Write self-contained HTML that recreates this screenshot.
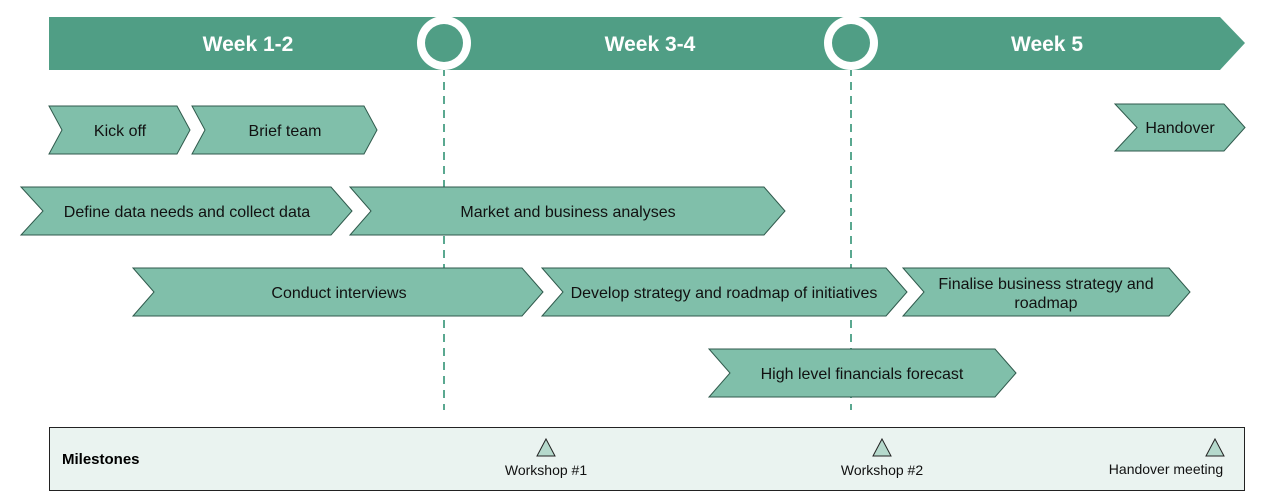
<!DOCTYPE html>
<html><head><meta charset="utf-8"><style>
html,body{margin:0;padding:0;background:#fff;}
svg{display:block;font-family:"Liberation Sans",Arial,sans-serif;}
</style></head><body>
<svg width="1280" height="501" viewBox="0 0 1280 501" xmlns="http://www.w3.org/2000/svg">
<rect width="1280" height="501" fill="#fff"/>
<polygon points="49,17 1220,17 1245,43 1220,70 49,70" fill="#509e85"/>
<line x1="444" y1="68" x2="444" y2="410" stroke="#5aa890" stroke-width="2" stroke-dasharray="8,6"/>
<line x1="851" y1="68" x2="851" y2="410" stroke="#5aa890" stroke-width="2" stroke-dasharray="8,6"/>
<circle cx="444" cy="43" r="27" fill="#fff"/>
<circle cx="444" cy="43" r="19" fill="#509e85"/>
<circle cx="851" cy="43" r="27" fill="#fff"/>
<circle cx="851" cy="43" r="19" fill="#509e85"/>
<g fill="#fff" font-weight="bold" font-size="21" text-anchor="middle">
<text x="248" y="51">Week 1-2</text>
<text x="650" y="51">Week 3-4</text>
<text x="1047" y="51">Week 5</text>
</g>
<g fill="#80bfaa" stroke="#2f5a4c" stroke-width="1">
<polygon points="49,106 177,106 190,130 177,154 49,154 62,130"/>
<polygon points="192,106 364,106 377,130 364,154 192,154 205,130"/>
<polygon points="1115,104 1224,104 1245,127.5 1224,151 1115,151 1137,127.5"/>
<polygon points="21,187 331,187 352,211 331,235 21,235 43,211"/>
<polygon points="350,187 764,187 785,211 764,235 350,235 371,211"/>
<polygon points="133,268 522,268 543,292 522,316 133,316 154,292"/>
<polygon points="542,268 886,268 907,292 886,316 542,316 563,292"/>
<polygon points="903,268 1169,268 1190,292 1169,316 903,316 924,292"/>
<polygon points="709,349 995,349 1016,373 995,397 709,397 730,373"/>
</g>
<g fill="#111" font-size="16" text-anchor="middle">
<text x="120" y="136">Kick off</text>
<text x="285" y="136">Brief team</text>
<text x="1180" y="133">Handover</text>
<text x="187" y="217">Define data needs and collect data</text>
<text x="568" y="217">Market and business analyses</text>
<text x="339" y="298">Conduct interviews</text>
<text x="724" y="298">Develop strategy and roadmap of initiatives</text>
<text x="1046" y="289">Finalise business strategy and</text>
<text x="1046" y="308">roadmap</text>
<text x="862" y="379">High level financials forecast</text>
</g>
<rect x="49.5" y="427.5" width="1195" height="63" fill="#eaf3f0" stroke="#222" stroke-width="1"/>
<text x="62" y="464" font-size="15" font-weight="bold" fill="#000">Milestones</text>
<g fill="#b5d9cc" stroke="#222" stroke-width="1">
<polygon points="546,439 555,456 537,456"/>
<polygon points="882,439 891,456 873,456"/>
<polygon points="1215,439 1224,456 1206,456"/>
</g>
<g fill="#111" font-size="14" text-anchor="middle">
<text x="546" y="475">Workshop #1</text>
<text x="882" y="475">Workshop #2</text>
<text x="1166" y="474">Handover meeting</text>
</g>
</svg>
</body></html>
